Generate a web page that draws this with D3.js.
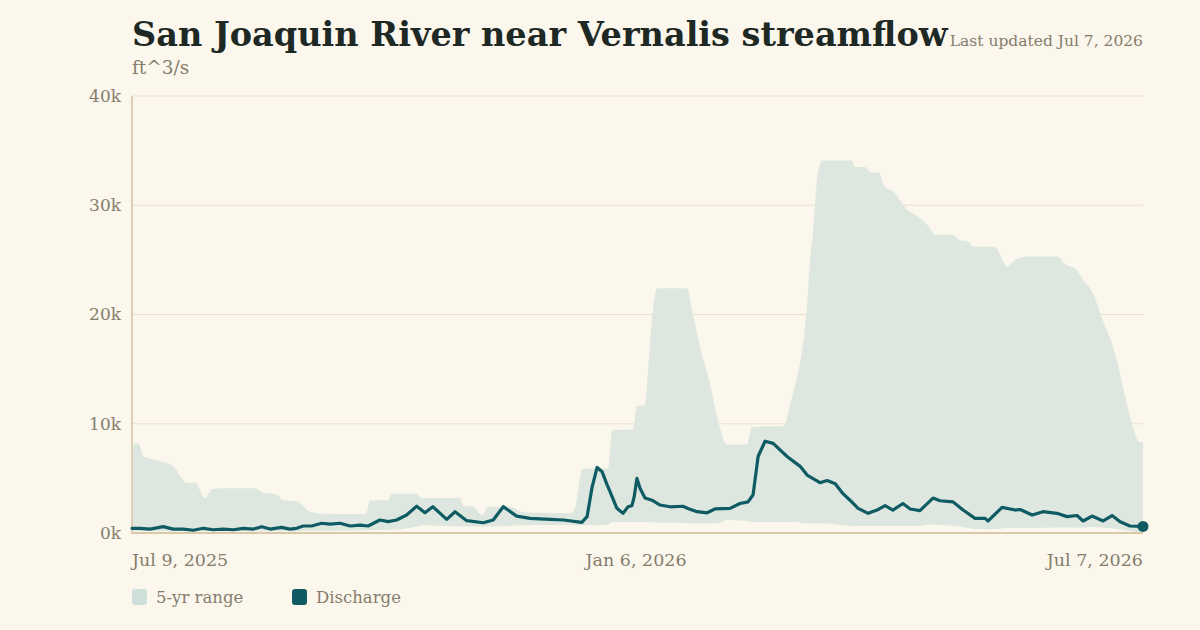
<!DOCTYPE html>
<html lang="en">
<head>
<meta charset="utf-8">
<title>San Joaquin River near Vernalis streamflow</title>
<script src="https://d3js.org/d3.v7.min.js"></script>
<style>
  body { margin: 0; background: #fbf7ed; }
  svg { display: block; font-family: "DejaVu Serif", Georgia, serif; }
</style>
</head>
<body>
<svg id="chart" width="1200" height="630"></svg>
<script>
// start of the series, every day offset below counts from here
var startDate = new Date(2025, 6, 9);
var endDate = new Date(2026, 6, 7);

// discharge, ft^3/s (thousands)
var flowDays = [0, 2.9, 6.5, 11.2, 14.8, 18.4, 22, 25.6, 29.2, 32.8, 36.4, 40, 43.6, 46.6, 49.6, 53.7, 56.7, 59.1,
  61.5, 64.5, 68.1, 71.1, 74.7, 78.3, 81.9, 84.8, 89, 92, 95, 98.6, 102.2, 105.2, 108, 113, 116, 120.2,
  126.1, 129.7, 133.3, 138.1, 142.9, 150.1, 154.9, 161.5, 163.4, 165.2, 167, 168.8, 170.6, 171.6, 174.1,
  176.3, 178.1, 179.5, 180.3, 181.3, 182.4, 184.2, 186.7, 189.6, 193.2, 197.8, 199.6, 202.9, 206.5, 209.3,
  214.7, 218.3, 221.2, 223, 224.8, 227.3, 230.2, 235.2, 239.9, 242.4, 247, 249.6, 252.5, 255.3, 257.8,
  260.7, 264.3, 267.5, 270.4, 273.2, 276.8, 279.4, 282.9, 287.6, 290.1, 294.8, 298.4, 302.7, 306.3, 307.4,
  312.4, 317.1, 318.9, 323.2, 327.1, 332.1, 335.7, 339.3, 341.5, 344.7, 348.7, 351.9, 354.8, 358.3, 363];
var flowValues = [0.43, 0.43, 0.36, 0.58, 0.35, 0.36, 0.25, 0.43, 0.3, 0.36, 0.3, 0.43, 0.36, 0.58, 0.36, 0.52, 0.36, 0.43,
  0.64, 0.64, 0.89, 0.82, 0.89, 0.64, 0.72, 0.64, 1.19, 1.04, 1.19, 1.65, 2.45, 1.86, 2.41, 1.25, 1.95, 1.13,
  0.94, 1.19, 2.41, 1.55, 1.34, 1.25, 1.19, 0.98, 1.5, 4.2, 6.0, 5.6, 4.4, 3.8, 2.26,
  1.8, 2.4, 2.5, 3.3, 5.0, 4.1, 3.2, 3.0, 2.56, 2.4, 2.45, 2.25, 1.95, 1.85, 2.2,
  2.25, 2.7, 2.85, 3.5, 7.0, 8.4, 8.2, 7.0, 6.1, 5.3, 4.6, 4.8, 4.5, 3.6, 3.0,
  2.26, 1.8, 2.1, 2.5, 2.1, 2.7, 2.2, 2.05, 3.2, 2.95, 2.85, 2.1, 1.34, 1.34, 1.1,
  2.35, 2.1, 2.15, 1.65, 1.95, 1.8, 1.5, 1.6, 1.1, 1.55, 1.1, 1.6, 1.03, 0.64, 0.6];

// 5-yr range, upper and lower edges (thousands)
var rangeDays = [0, 2.2, 4.3, 6.5, 11.1, 14.7, 19.7, 22.6, 26.2, 28.7, 32.7, 44.2, 47, 52.1, 54.2, 59.2, 63.9, 71.1,
  84, 85.5, 91.9, 93.4, 102.3, 104.1, 117.8, 118.9, 122.4, 125.7, 127.8, 135.7, 140.4, 157.3, 159.1, 160.5,
  161.6, 170.9, 172.4, 179.9, 181.3, 184.2, 185.3, 186.7, 188.5, 199.3, 201.1, 203.9, 207.5, 210.4, 213.6,
  220.8, 222.6, 233.8, 237.3, 238.8, 240.6, 241.7, 242.7, 243.4, 244.5, 246.3, 248.1, 258.5, 259.6, 263.2,
  265, 267.9, 270.4, 273.2, 278.3, 283, 286.5, 288.3, 294.4, 297.3, 300.2, 302, 309.9, 311.7, 314.2, 317.8,
  321.4, 332.5, 335, 338.6, 341.5, 345.1, 348.3, 353, 356.6, 359.4, 361.9, 363];
var rangeHigh = [8.2, 8.2, 7.0, 6.8, 6.5, 6.1, 4.6, 4.6, 3.2, 4.0, 4.1, 4.1, 3.7, 3.5, 3.0, 2.9, 1.95, 1.75,
  1.75, 3.0, 3.0, 3.6, 3.6, 3.2, 3.2, 2.5, 2.4, 1.65, 2.4, 2.4, 1.9, 1.8, 2.3, 4.5,
  5.9, 5.9, 9.4, 9.5, 11.6, 11.7, 14.9, 19.5, 22.4, 22.4, 20.4, 17.1, 13.7, 10.3, 8.1,
  8.1, 9.7, 9.8, 12.8, 14.2, 16.75, 19.0, 22.0, 24.8, 27.5, 33.0, 34.1, 34.1, 33.5, 33.5,
  33.0, 33.0, 31.7, 31.3, 29.6, 28.8, 27.9, 27.3, 27.3, 26.8, 26.7, 26.2, 26.2, 25.4, 24.4, 25.1,
  25.3, 25.3, 24.6, 24.2, 23.2, 21.9, 19.65, 16.4, 12.5, 9.7, 8.3, 8.3];
var rangeLow = [0.15, 0.15, 0.15, 0.15, 0.15, 0.15, 0.15, 0.15, 0.15, 0.15, 0.15, 0.15, 0.15, 0.15, 0.15, 0.15, 0.2, 0.2,
  0.25, 0.25, 0.3, 0.3, 0.6, 0.7, 0.6, 0.6, 0.6, 0.6, 0.6, 0.65, 0.7, 0.75, 0.7, 0.7,
  0.7, 0.75, 1.0, 1.0, 1.0, 1.0, 1.0, 0.95, 0.95, 0.9, 0.9, 0.9, 0.9, 0.9, 1.2,
  1.1, 1.0, 1.0, 1.0, 1.0, 0.9, 0.9, 0.9, 0.9, 0.9, 0.9, 0.9, 0.65, 0.65, 0.65,
  0.65, 0.65, 0.65, 0.65, 0.65, 0.65, 0.75, 0.75, 0.65, 0.6, 0.45, 0.4, 0.35, 0.4, 0.45, 0.45,
  0.45, 0.5, 0.5, 0.5, 0.5, 0.55, 0.5, 0.4, 0.25, 0.12, 0.1, 0.1];

var yTicks = [0, 10, 20, 30, 40];
var xTickDates = [new Date(2025, 6, 9), new Date(2026, 0, 6), new Date(2026, 6, 7)];
var xTickLabels = ["Jul 9, 2025", "Jan 6, 2026", "Jul 7, 2026"];
var legendLabels = ["5-yr range", "Discharge"];

var DAY = 86400000;
function dayToDate(d) { return new Date(startDate.getTime() + d * DAY); }

var plotLeft = 132, plotRight = 1143, plotTop = 96, plotBottom = 533;
var svg = d3.select("#chart");

var x = d3.scaleTime().domain([startDate, endDate]).range([plotLeft, plotRight]);
var y = d3.scaleLinear().domain([0, 40]).range([plotBottom, plotTop]);

svg.append("rect").attr("width", 1200).attr("height", 630).attr("fill", "#fbf7ed");

// gridlines
svg.append("g")
  .selectAll("line")
  .data(yTicks.filter(function(t) { return t > 0; }))
  .enter().append("line")
  .attr("x1", plotLeft).attr("x2", plotRight)
  .attr("y1", function(d) { return y(d); })
  .attr("y2", function(d) { return y(d); })
  .attr("stroke", "#ebe0cb")
  .attr("stroke-width", 1.2);

// 5-yr range band
var band = rangeDays.map(function(d, i) { return { date: dayToDate(d), hi: rangeHigh[i], lo: rangeLow[i] }; });
svg.append("path")
  .datum(band)
  .attr("fill", "#dde7df")
  .attr("d", d3.area()
    .x(function(d) { return x(d.date); })
    .y0(function(d) { return y(d.lo); })
    .y1(function(d) { return y(d.hi); })
    .curve(d3.curveMonotoneX));

// axis lines
svg.append("line").attr("x1", plotLeft).attr("x2", plotLeft).attr("y1", plotTop).attr("y2", plotBottom)
  .attr("stroke", "#ddd0b3").attr("stroke-width", 2);
svg.append("line").attr("x1", plotLeft - 1).attr("x2", plotRight).attr("y1", plotBottom).attr("y2", plotBottom)
  .attr("stroke", "#d8caa9").attr("stroke-width", 2);

// discharge line
var flow = flowDays.map(function(d, i) { return { date: dayToDate(d), v: flowValues[i] }; });
svg.append("path")
  .datum(flow)
  .attr("fill", "none")
  .attr("stroke", "#0f5b64")
  .attr("stroke-width", 3.2)
  .attr("stroke-linejoin", "round")
  .attr("stroke-linecap", "round")
  .attr("d", d3.line()
    .x(function(d) { return x(d.date); })
    .y(function(d) { return y(d.v); }));

var last = flow[flow.length - 1];
svg.append("circle")
  .attr("cx", x(last.date)).attr("cy", y(last.v)).attr("r", 5.5)
  .attr("fill", "#0f5b64");

// y labels
svg.append("g")
  .selectAll("text")
  .data(yTicks)
  .enter().append("text")
  .attr("x", 121)
  .attr("y", function(d) { return y(d); })
  .attr("dy", "0.35em")
  .attr("text-anchor", "end")
  .attr("font-size", 17)
  .attr("fill", "#857d6b")
  .text(function(d) { return d + "k"; });

// x labels
svg.append("g")
  .selectAll("text")
  .data(xTickDates)
  .enter().append("text")
  .attr("x", function(d) { return x(d); })
  .attr("y", 566)
  .attr("text-anchor", function(d, i) { return i == 0 ? "start" : (i == 2 ? "end" : "middle"); })
  .attr("font-size", 17.5)
  .attr("fill", "#857d6b")
  .text(function(d, i) { return xTickLabels[i]; });

// title
var title = svg.append("text")
  .attr("x", plotLeft).attr("y", 46)
  .attr("font-size", 32)
  .attr("font-weight", "bold")
  .attr("fill", "#1e2824")
  .text("San Joaquin River near Vernalis streamflow");
var tw = title.node().getComputedTextLength();
title.attr("font-size", 32 * 816 / tw);

svg.append("text")
  .attr("x", plotRight).attr("y", 46)
  .attr("text-anchor", "end")
  .attr("font-size", 15.5)
  .attr("fill", "#857d6b")
  .text("Last updated Jul 7, 2026");

svg.append("text")
  .attr("x", plotLeft).attr("y", 74)
  .attr("font-size", 18.5)
  .attr("fill", "#857d6b")
  .text("ft^3/s");

// legend
var legendColors = ["#cfe0dc", "#0f5b64"];
var lg = svg.append("g").selectAll("g")
  .data(legendLabels)
  .enter().append("g")
  .attr("transform", function(d, i) { return "translate(" + (132 + i * 160) + ",589)"; });
lg.append("rect").attr("width", 15).attr("height", 16).attr("rx", 3)
  .attr("fill", function(d, i) { return legendColors[i]; });
lg.append("text").attr("x", 24).attr("y", 14)
  .attr("font-size", 16.5)
  .attr("fill", "#857d6b")
  .text(function(d) { return d; });
</script>
</body>
</html>
